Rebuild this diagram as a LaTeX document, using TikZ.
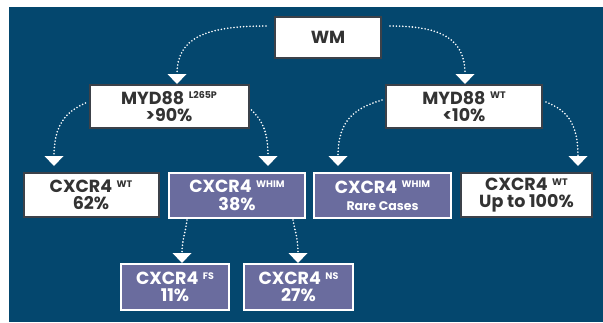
\documentclass[tikz,border=0pt]{standalone}
\usepackage{fontspec}
\setmainfont{Poppins}
\usetikzlibrary{arrows.meta}
\definecolor{bgblue}{HTML}{04476E}
\definecolor{boxpurple}{HTML}{6A6C9E}
\definecolor{boxgray}{HTML}{3C4149}
\definecolor{txtdark}{HTML}{333333}
\newcommand{\sups}[1]{\hspace{4.5pt}\raisebox{5.2pt}{\fontsize{9.5}{9.5}\selectfont #1}}
\begin{document}
\begin{tikzpicture}[x=1pt,y=-1pt,
  basebox/.style={line width=2pt,align=center,inner sep=0pt,
    font=\bfseries\fontsize{17.5}{17.5}\selectfont},
  wbox/.style={basebox,draw=boxgray,fill=white,text=txtdark},
  pbox/.style={basebox,draw=white,fill=boxpurple,text=white},
  link/.style={white,line width=1.8pt,line cap=round,dash pattern=on 0pt off 3.2pt,
    -{Triangle[width=19pt,length=10pt,line width=0pt]}}]
\useasboundingbox (0,0) rectangle (603,322);
\fill[bgblue] (9,7) rectangle (603,322);
\node[wbox,minimum width=106,minimum height=41] (wm) at (328,37.5) {WM};
\node[wbox,minimum width=159,minimum height=43] (myl) at (169,106.5) {MYD88\sups{L265P}\\>90\%};
\node[wbox,minimum width=156,minimum height=43] (myr) at (464,106.5) {MYD88\sups{WT}\\<10\%};
\node[wbox,minimum width=135,minimum height=44] (c1) at (91,195) {CXCR4\sups{WT}\\62\%};
\node[pbox,minimum width=136,minimum height=45] (c2) at (237,195.5) {CXCR4\sups{WHIM}\\38\%};
\node[pbox,minimum width=137,minimum height=45] (c3) at (382.5,195.5) {CXCR4\sups{WHIM}\\{\fontsize{12.5}{12.5}\selectfont Rare Cases}};
\node[wbox,minimum width=131,minimum height=44] (c4) at (526.5,195) {CXCR4\sups{WT}\\Up to 100\%};
\node[pbox,minimum width=108,minimum height=46] (fs) at (175,287) {CXCR4\sups{FS}\\11\%};
\node[pbox,minimum width=109,minimum height=46] (ns) at (298.5,287) {CXCR4\sups{NS}\\27\%};
\draw[link] ([shift={(-8,-11.5)}]wm.west) .. controls +(-61,0) and +(0,-46) .. ([xshift=8pt]myl.north);
\draw[link] ([shift={(8,-11.5)}]wm.east) .. controls +(50,0) and +(0,-46) .. ([xshift=1pt]myr.north);
\draw[link] ([shift={(-3,-3.5)}]myl.west) .. controls +(-20,9) and +(0,-41) .. ([shift={(-37,-6)}]c1.north);
\draw[link] ([shift={(2,3.5)}]myl.east) .. controls +(10,10) and +(0,-36) .. ([shift={(31,-6)}]c2.north);
\draw[link] ([shift={(-3,-6.5)}]myr.west) .. controls +(-27,8) and +(0,-46) .. ([shift={(-44.5,-6)}]c3.north);
\draw[link] ([shift={(3,-4.5)}]myr.east) .. controls +(20,8) and +(0,-44) .. ([shift={(51.5,-6)}]c4.north);
\draw[link] ([shift={(-50,1)}]c2.south) .. controls +(-2,15) and +(0,-23) .. ([xshift=7pt]fs.north);
\draw[link] ([shift={(56,1)}]c2.south) .. controls +(3,15) and +(0,-23) .. ([xshift=-0.5pt]ns.north);
\end{tikzpicture}
\end{document}
